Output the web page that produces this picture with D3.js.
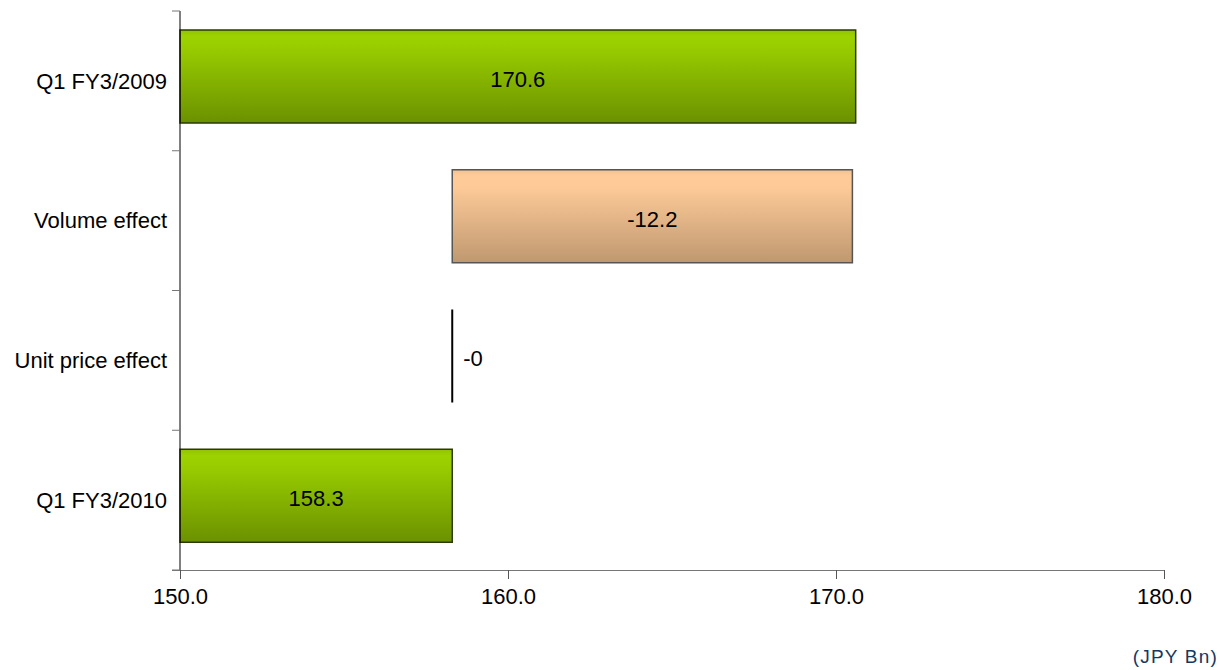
<!DOCTYPE html>
<html><head><meta charset="utf-8">
<script src="https://cdn.jsdelivr.net/npm/d3@7"></script>
<style>body{margin:0;background:#fff}svg{display:block}text{font-family:"Liberation Sans",Arial,sans-serif}</style>
</head><body><svg id="c" width="1220" height="670"></svg>
<script>
const categories = ["Q1 FY3/2009", "Volume effect", "Unit price effect", "Q1 FY3/2010"];
const starts = [150, 158.3, 158.3, 150];
const ends = [170.6, 170.5, 158.3, 158.3];
const labels = ["170.6", "-12.2", "-0", "158.3"];
const kinds = ["total", "neg", "line", "total"];
const xTicks = [150, 160, 170, 180];

const FS = 22;
const svg = d3.select("#c");
const defs = svg.append("defs");
const g1 = defs.append("linearGradient").attr("id","gGreen").attr("x1",0).attr("y1",0).attr("x2",0).attr("y2",1);
[[0,"#90c400"],[0.07,"#9dd200"],[0.2,"#98cc00"],[1,"#6b9100"]].forEach(s=>g1.append("stop").attr("offset",s[0]).attr("stop-color",s[1]));
const g2 = defs.append("linearGradient").attr("id","gOrange").attr("x1",0).attr("y1",0).attr("x2",0).attr("y2",1);
[[0,"#f2c292"],[0.07,"#ffcc99"],[0.2,"#fcc997"],[1,"#bf9870"]].forEach(s=>g2.append("stop").attr("offset",s[0]).attr("stop-color",s[1]));

const x = d3.scaleLinear().domain([150,180]).range([180,1164]);
const y = d3.scaleBand().domain(categories).range([11,570]).padding(0);

// bars
categories.forEach((c,i)=>{
  const top = y(c) + 19, h = 93;
  if (kinds[i] === "line") {
    svg.append("line").attr("x1",x(starts[i])).attr("x2",x(starts[i])).attr("y1",top).attr("y2",top+h)
      .attr("stroke","#000").attr("stroke-width",2);
    svg.append("text").attr("x",x(starts[i])+11).attr("y",top+h/2+2).attr("dy","0.35em")
      .attr("font-size",FS).attr("fill","#000").text(labels[i]);
  } else {
    const x0 = x(Math.min(starts[i],ends[i])), x1 = x(Math.max(starts[i],ends[i]));
    svg.append("rect").attr("x",x0).attr("y",top).attr("width",x1-x0).attr("height",h)
      .attr("fill", kinds[i]==="total" ? "url(#gGreen)" : "url(#gOrange)")
      .attr("stroke", kinds[i]==="total" ? "#2a3a00" : "#555").attr("stroke-width",1.5);
    svg.append("text").attr("x",(x0+x1)/2).attr("y",top+h/2+3).attr("dy","0.35em")
      .attr("text-anchor","middle").attr("font-size",FS).attr("fill","#000").text(labels[i]);
  }
});

// y axis
svg.append("line").attr("x1",180).attr("x2",180).attr("y1",11).attr("y2",570).attr("stroke","#000").attr("stroke-width",1);
const yTickPos = [11].concat(categories.map(c=>y(c)+y.bandwidth()));
yTickPos.forEach(p=>svg.append("line").attr("x1",172).attr("x2",180).attr("y1",p).attr("y2",p).attr("stroke","#777"));
categories.forEach(c=>svg.append("text").attr("x",167).attr("y",y(c)+y.bandwidth()/2).attr("dy","0.35em")
  .attr("text-anchor","end").attr("font-size",FS).attr("fill","#000").text(c));

// x axis
const xa = svg.append("g").attr("transform","translate(0,570)")
  .call(d3.axisBottom(x).tickValues(xTicks).tickFormat(d3.format(".1f")).tickSize(9).tickPadding(9).tickSizeOuter(0));
xa.select(".domain").attr("stroke","#777").attr("d","M172,0.5H1164");
xa.selectAll(".tick line").attr("stroke","#555");
xa.selectAll(".tick text").attr("font-size",FS).attr("fill","#000").attr("font-family","Liberation Sans, Arial, sans-serif");

svg.append("text").attr("x",1218).attr("y",663).attr("text-anchor","end").attr("font-size",19).attr("letter-spacing",1.2).attr("fill","#17375e").text("(JPY Bn)");
</script></body></html>
